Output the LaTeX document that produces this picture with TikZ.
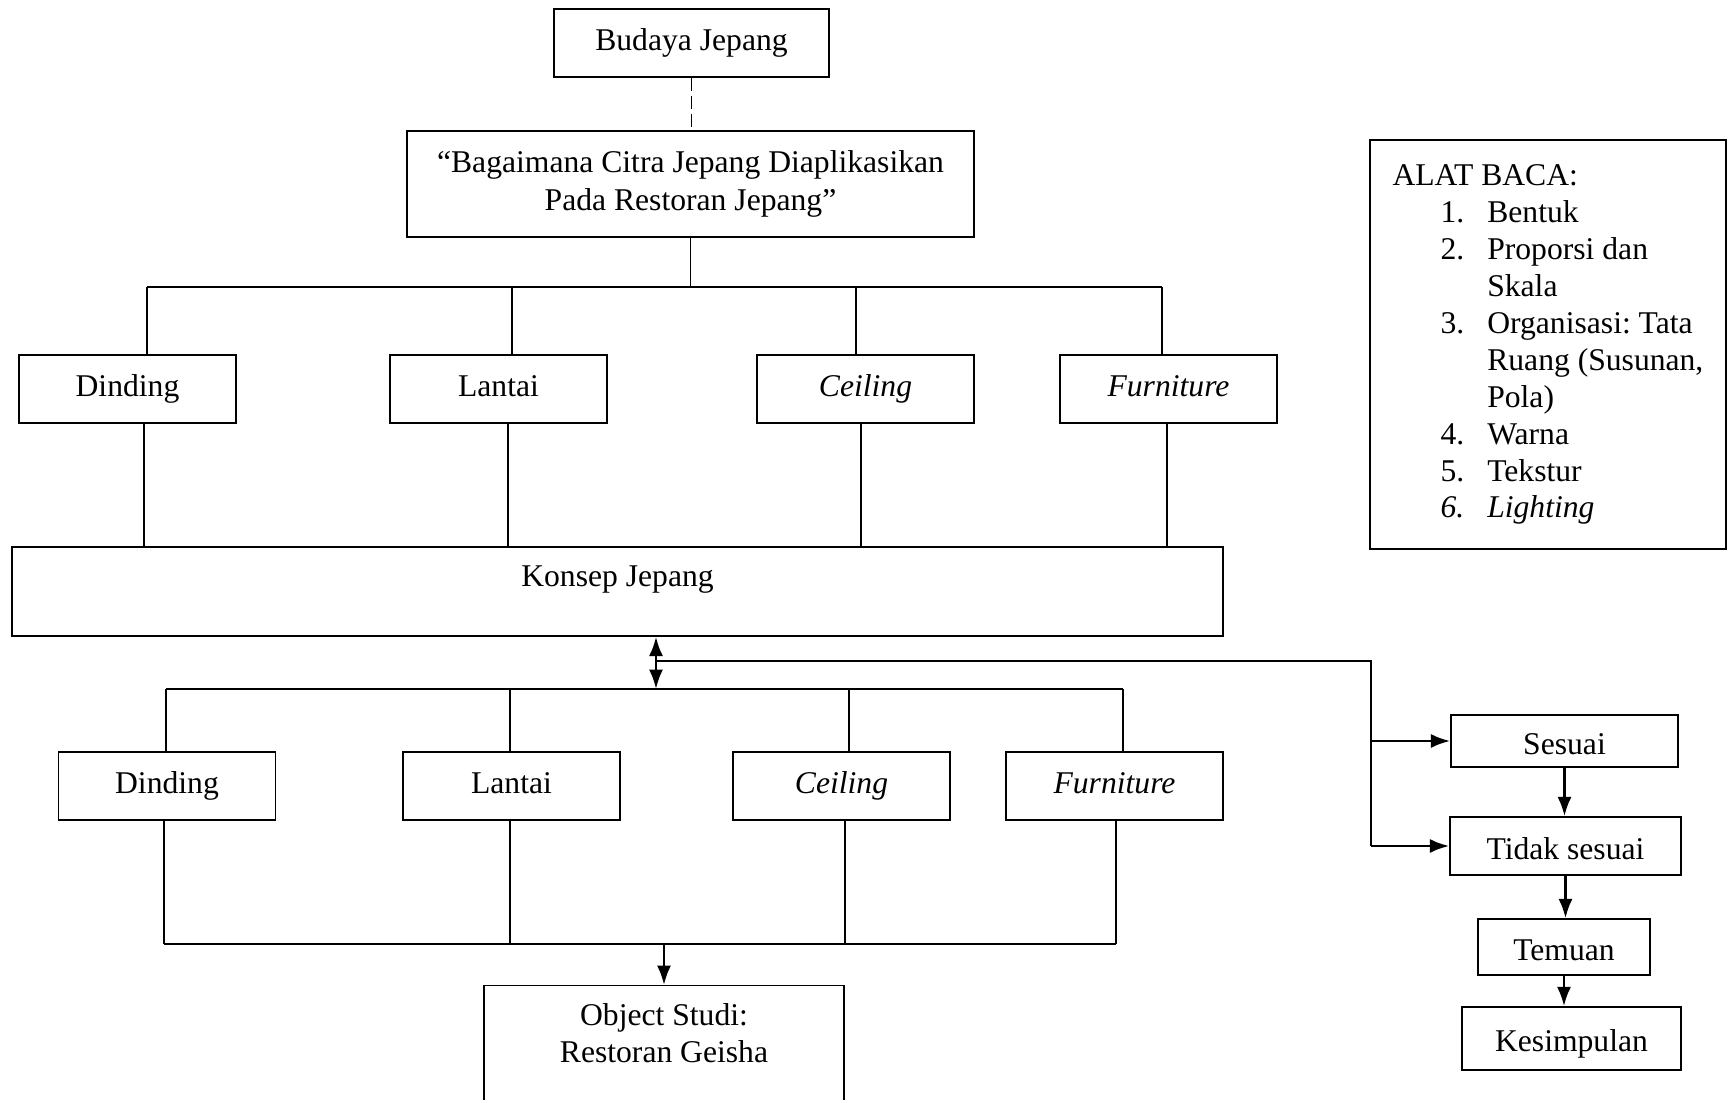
\documentclass[tikz,border=0pt]{standalone}
\usepackage{fontspec}
\setmainfont{Liberation Serif}
\usepackage{tikz}
\usetikzlibrary{arrows.meta}
\tikzset{every node/.style={font=\fontsize{9}{10.5}\selectfont},
box/.style={draw, thin, inner sep=2pt, minimum height=0.68cm, align=center},% boxes of the scheme
one/.style={text height=6.5pt, text depth=2pt},% single line boxes
low/.style={text height=7.5pt, text depth=0pt},% boxes on the right
link/.style={line width=0.5pt},
arr/.style={->, >={Latex[length=5.5pt, width=4pt]}, line width=0.8pt}}

\begin{document}
\begin{tikzpicture}[scale = 1]
      \useasboundingbox (0,0) rectangle (17.28,-11);
      \node[box, one, minimum width=2.75cm] (budaya) at (6.915,-0.43) {Budaya Jepang};
      \node[box, minimum width=5.67cm, minimum height=1.06cm] (tanya) at (6.905,-1.84)
      {``Bagaimana Citra Jepang Diaplikasikan\\[0.5pt] Pada Restoran Jepang''};
      \foreach \n/\x/\t in {d1/1.275/Dinding, l1/4.985/Lantai, c1/8.655/\textit{Ceiling}, f1/11.685/\textit{Furniture}}
      \node[box, one, minimum width=2.17cm] (\n) at (\x,-3.89) {\t};
      \node[box, minimum width=12.11cm, minimum height=0.89cm] (konsep) at (6.175,-5.915)
      {Konsep Jepang\\[-2pt]\mbox{}};
      \foreach \n/\x/\t in {d2/1.67/Dinding, l2/5.115/Lantai, c2/8.415/\textit{Ceiling}, f2/11.145/\textit{Furniture}}
      \node[box, one, minimum width=2.17cm] (\n) at (\x,-7.86) {\t};
      \node[box, minimum width=3.6cm, anchor=north, inner ysep=5pt, text depth=1.2cm] (objek) at (6.64,-9.85)
      {Object Studi:\\Restoran Geisha};
      \node[box, low, minimum width=2.27cm, minimum height=0.52cm] (sesuai) at (15.645,-7.41) {Sesuai};
      \node[box, low, minimum width=2.31cm, minimum height=0.58cm] (tidak) at (15.655,-8.46) {Tidak sesuai};
      \node[box, low, minimum width=1.72cm, minimum height=0.56cm] (temuan) at (15.64,-9.47) {Temuan};
      \node[box, low, minimum width=2.19cm, minimum height=0.63cm] (simpul) at (15.715,-10.385) {Kesimpulan};
      \node[draw, thin, minimum width=3.56cm, minimum height=4.09cm] (alat) at (15.48,-3.445)
      {\frenchspacing\begin{tabular}{@{\hspace{4.8mm}}l@{\hspace{2.3mm}}l@{}}
      \multicolumn{2}{@{}l@{}}{ALAT BACA:}\\
      1. & Bentuk\\
      2. & Proporsi dan\\
         & Skala\\
      3. & Organisasi: Tata\\
         & Ruang (Susunan,\\
         & Pola)\\
      4. & Warna\\
      5. & Tekstur\\
      \textit{6.} & \textit{Lighting}
      \end{tabular}};
      % upper tree
      \coordinate (bus1) at (0,-2.87);
      \draw[link, dash pattern=on 3.7pt off 1.4pt] (budaya.south) -- (budaya.south |- tanya.north);
      \draw[link] (tanya.south) -- (tanya.south |- bus1);
      \foreach \n/\a/\b in {d1/0.195/0.165, l1/0.135/0.095, c1/-0.095/-0.045, f1/-0.065/-0.015} {
      \draw[link] ([xshift=\a cm]\n.north) -- ([xshift=\a cm]\n.north |- bus1);
      \draw[link] ([xshift=\b cm]\n.south) -- ([xshift=\b cm]\n.south |- konsep.north);
      }
      \draw[link] ([xshift=0.195cm]d1.north |- bus1) -- ([xshift=-0.065cm]f1.north |- bus1);
      % lower tree
      \coordinate (bus2) at (0,-6.89);
      \coordinate (bus3) at (0,-9.44);
      \coordinate (cabang) at (13.71,-6.61);
      \foreach \n/\a/\b in {d2/-0.01/-0.03, l2/-0.015/-0.015, c2/0.075/0.035, f2/0.085/0.015} {
      \draw[link] ([xshift=\a cm]\n.north) -- ([xshift=\a cm]\n.north |- bus2);
      \draw[link] ([xshift=\b cm]\n.south) -- ([xshift=\b cm]\n.south |- bus3);
      }
      \draw[link] ([xshift=-0.01cm]d2.north |- bus2) -- ([xshift=0.085cm]f2.north |- bus2);
      \draw[link] ([xshift=-0.03cm]d2.south |- bus3) -- ([xshift=0.015cm]f2.south |- bus3);
      \draw[arr] (objek.north |- bus3) -- (objek.north);
      \draw[arr, <->] ([xshift=0.385cm]konsep.south) -- ([xshift=0.385cm]konsep.south |- bus2);
      % right side
      \draw[link] ([xshift=0.385cm]konsep.south |- cabang) -- (cabang) -- (cabang |- tidak.west);
      \draw[arr] (cabang |- sesuai.west) -- (sesuai.west);
      \draw[arr] (cabang |- tidak.west) -- (tidak.west);
      \draw[arr] (sesuai.south) -- (sesuai.south |- tidak.north);
      \draw[arr] (tidak.south) -- (tidak.south |- temuan.north);
      \draw[arr] (temuan.south) -- (temuan.south |- simpul.north);
    \end{tikzpicture}
\end{document}
